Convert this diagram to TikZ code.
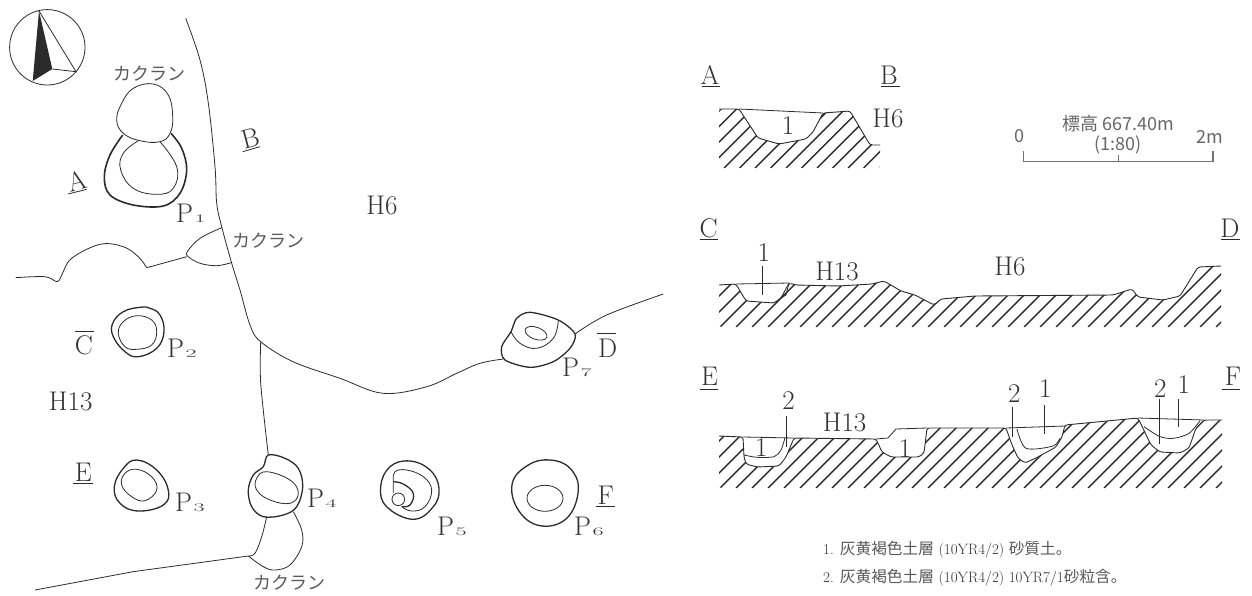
\documentclass[tikz,border=0pt]{standalone}
\usepackage{fontspec}
\newfontfamily\cjk{Noto Sans CJK JP}
\definecolor{ink}{HTML}{2B2B2B}
\definecolor{inktext}{HTML}{333333}
\newcommand{\pitname}[1]{P\kern1.5pt\scalebox{1.5}[0.72]{\fontsize{16}{16}\selectfont #1}}
\newcommand{\notecjk}[1]{{\cjk\fontsize{15.7}{15.7}\selectfont\color{black!65}#1}}
\tikzset{
  edgeln/.style={draw=ink, line width=0.8pt},
  pitln/.style={draw=ink, line width=1.3pt},
  thickln/.style={draw=ink, line width=1.6pt},
  hatchln/.style={draw=ink, line width=1.4pt},
  sectln/.style={draw=ink, line width=0.9pt, rounded corners=2.5pt},
  barln/.style={draw=black!55, line width=1.2pt},
  lab/.style={anchor=center, text=inktext, font=\fontsize{27}{27}\selectfont, inner sep=0pt},
  pitlab/.style={anchor=center, text=inktext, font=\fontsize{27}{27}\selectfont, inner sep=0pt},
  kana/.style={anchor=center, text=black!65, font=\cjk\fontsize{18}{18}\selectfont, inner sep=0pt},
  note/.style={anchor=west, text=inktext, font=\fontsize{15}{15}\selectfont, inner sep=0pt},
  scalelab/.style={anchor=center, text=black!60, font=\cjk\fontsize{18}{18}\selectfont, inner sep=0pt},
}
\def\sectAB{(719,109) -- (739,109) -- (758,138) -- (779,144) -- (806,139) -- (813,132) -- (823,113) -- (850,111) -- (870,145) -- (880,145)}
\def\sectCD{(719,285) -- (736,284) -- (746,301) -- (774,303) -- (781,298) -- (789,283) -- (796,285) -- (838,286) -- (872,284) -- (884,281) -- (901,291) -- (915,295) -- (934,305) -- (941,299) -- (975,296) -- (1113,295) -- (1132,289) -- (1138,297) -- (1163,300) -- (1180,296) -- (1198,267) -- (1221,266)}
\def\sectEF{(719,436) -- (743,437) -- (744,457) -- (746,464) -- (757,467) -- (779,466) -- (786,457) -- (794,438) -- (876,439) -- (882,452) -- (891,457) -- (919,457) -- (924,453) -- (927,428) -- (1006,428) -- (1012,445) -- (1018,458) -- (1025,463) -- (1036,458) -- (1056,447) -- (1062,437) -- (1065,425) -- (1138,418) -- (1151,445) -- (1160,452) -- (1180,453) -- (1189,448) -- (1196,428) -- (1204,420) -- (1222,420)}
\begin{document}
\begin{tikzpicture}[x=1pt, y=-1pt]
  \useasboundingbox (0,0) rectangle (1252,595);

  % north mark
  \draw[edgeln] (47.3,47.3) circle (37.7);
  \fill[ink] (39,11) -- (32.7,81) -- (52.3,69) -- cycle;
  \draw[edgeln] (39,11) -- (76,71.7) -- (52.3,69);

  % plan lines
  \draw[edgeln] plot[smooth, tension=0.6] coordinates {(185.7,18.3) (200,60) (208.3,103) (215,166.7) (216.7,203.3) (221.7,226.7) (231.7,263.3) (240,290) (250,325) (260.7,341.7) (293,361.7) (340,378.3) (383,393.3) (426.7,386.7) (456.7,373.3) (480,363.3) (503.3,359)};
  \draw[edgeln] plot[smooth, tension=0.6] coordinates {(575,334) (606.7,315) (663.3,294)};
  \draw[edgeln] plot[smooth, tension=0.5] coordinates {(260.7,341.7) (260.7,383.3) (268.3,455)};
  \draw[edgeln] (35,590) -- (133,571.7) -- (248.3,556);
  \draw[edgeln] plot[smooth, tension=0.6] coordinates {(15.7,277.7) (45,276.7) (57.3,281.7) (61.7,275) (71.7,258.3) (100,244.3) (123.3,246.7) (138.3,256.7) (146.7,267.7)};
  \draw[edgeln] (146.7,267.7) -- (186.7,256.7);
  \draw[edgeln] plot[smooth, tension=0.6] coordinates {(221.7,227.7) (200,238.3) (187.3,251.7) (188.3,256.7) (200,263.3) (216.7,265.7) (231,262.7)};
  \draw[edgeln] plot[smooth, tension=0.6] coordinates {(266.7,516.7) (261.7,536.7) (255,553.3) (248.3,556)};
  \draw[edgeln] plot[smooth, tension=0.6] coordinates {(248.3,556) (263.3,566.7) (275,570) (290,565) (301.7,546.7) (301.7,530) (293.3,511.7)};

  % P1
  \draw[edgeln] plot[smooth cycle, tension=0.7] coordinates {(153.3,84) (133.3,88.3) (121.7,103.3) (116.7,120) (123.3,133.3) (140,140.7) (160,141.7) (170,133.3) (172.7,116.7) (168.3,95)};
  \draw[thickln] plot[smooth, tension=0.6] coordinates {(122.7,135) (110,155) (104.3,176.7) (110,195) (133.3,205) (163.3,206) (180,193.3) (186.7,170) (181.7,148.3) (171,133.3)};
  \draw[edgeln] plot[smooth, tension=0.7] coordinates {(138.3,140.7) (123.3,153.3) (120.7,170) (133.3,188.3) (156.7,194.3) (173.3,188.3) (176.7,166.7) (160,141.7)};
  % P2
  \draw[pitln] plot[smooth cycle, tension=0.7] coordinates {(140,307.3) (123.3,311.7) (112.7,323.3) (113.3,336.7) (125,351.7) (138.3,356.7) (156.7,348.3) (164,331.7) (160,315) (150,308.3)};
  \draw[edgeln] plot[smooth cycle, tension=0.7] coordinates {(136.7,315.7) (123.3,321.7) (118.3,333.3) (125,346.7) (136.7,349.3) (151.7,345) (156.7,331.7) (151.7,320)};
  % P3
  \draw[pitln] plot[smooth cycle, tension=0.7] coordinates {(136.7,460) (123.3,468.3) (114.3,486.7) (120,503.3) (138.3,511) (163.3,505) (168.3,490) (156.7,470)};
  \draw[edgeln] plot[smooth cycle, tension=0.7] coordinates {(136.7,469.3) (125,473.3) (121.7,485) (131.7,496.7) (145,500.7) (156.7,490) (151.7,476.7)};
  % P4
  \draw[pitln] plot[smooth cycle, tension=0.6] coordinates {(268.3,455) (285,458.3) (298.3,468.3) (302.7,486.7) (296.7,506.7) (283.3,515) (263.3,516.7) (251.7,506.7) (248.3,490) (253.3,475) (263.3,466.7)};
  \draw[edgeln] plot[smooth cycle, tension=0.7] coordinates {(266.7,471.7) (256.7,478.3) (256.7,490) (270,500) (290,503.3) (298.3,493.3) (290,480)};
  % P5
  \draw[pitln] plot[smooth cycle, tension=0.7] coordinates {(410,461) (390,466.7) (380.7,486.7) (386.7,506.7) (413.3,519.3) (433.3,506.7) (439,488.3) (430,470)};
  \draw[edgeln] plot[smooth, tension=0.7] coordinates {(393.3,493) (393.3,480) (395,471.7) (406.7,470) (423.3,476.7) (431.7,490) (425,506.7) (411.7,511) (401.7,506.7)};
  \draw[pitln] plot[smooth, tension=0.7] coordinates {(393.3,481.7) (403.3,484) (413.3,493.3) (410,505) (401.7,506.7)};
  \draw[edgeln] (398.3,499.3) circle (6.3);
  % P6
  \draw[pitln] plot[smooth cycle, tension=0.7] coordinates {(550,460) (528.3,465) (512.3,483.3) (518.3,510) (540,525.7) (566.7,518.3) (578.3,490) (570,468.3)};
  \draw[edgeln] (545,498.3) ellipse (18 and 13);
  % P7
  \draw[pitln] plot[smooth cycle, tension=0.5] coordinates {(530,312.3) (516.7,318.3) (511,331.7) (501.7,346.7) (505,360) (530,367.3) (553.3,361.7) (570,348.3) (575,334) (558.3,320)};
  \draw[edgeln] plot[smooth, tension=0.7] coordinates {(511,331.7) (520,343.3) (536.7,348.3) (553.3,338.3) (558.3,320.7)};
  \draw[edgeln, rotate around={-20:(536,333.3)}] (536,333.3) ellipse (11.5 and 6);

  % plan labels
  \node[kana] (kakuranA) at (149,74) {カクラン};
  \node[kana] (kakuranB) at (268.5,241) {カクラン};
  \node[kana] (kakuranC) at (289.5,583) {カクラン};
  \node[lab, rotate=15] (planA) at (77,181) {A};
  \node[lab, rotate=15] (planB) at (250.7,138) {B};
  \node[lab] (planC) at (84,345) {C};
  \node[lab] (planD) at (607.7,348.3) {D};
  \node[lab] (planE) at (83.3,472.7) {E};
  \node[lab] (planF) at (605.7,495) {F};
  \draw[edgeln] (68,194) -- (86.7,189.3);
  \draw[edgeln] (242.7,151.7) -- (260,146.7);
  \draw[edgeln] (75,331.7) -- (94,331.7);
  \draw[edgeln] (596.7,333.3) -- (615.7,333.3);
  \draw[edgeln] (73,483.3) -- (92.7,483.3);
  \draw[edgeln] (595.7,506) -- (615,506);
  \node[pitlab] (planHsix) at (382,205) {H6};
  \node[pitlab] (planHthirteen) at (70.7,401.7) {H13};
  \node[pitlab, anchor=west] (pone) at (176,213) {\pitname{1}};
  \node[pitlab, anchor=west] (ptwo) at (167,348) {\pitname{2}};
  \node[pitlab, anchor=west] (pthree) at (175,502) {\pitname{3}};
  \node[pitlab, anchor=west] (pfour) at (307,498) {\pitname{4}};
  \node[pitlab, anchor=west] (pfive) at (437,526) {\pitname{5}};
  \node[pitlab, anchor=west] (psix) at (574,526) {\pitname{6}};
  \node[pitlab, anchor=west] (pseven) at (562,367) {\pitname{7}};

  % section A-B
  \begin{scope}
    \clip[rounded corners=2.5pt] \sectAB -- (880,168) -- (719,168) -- cycle;
    \foreach \x in {600,615.5,...,900}
      \draw[hatchln] (\x,168) -- ++(80,-80);
  \end{scope}
  \draw[sectln] \sectAB;
  \draw[edgeln] (739,109) -- (823,113);
  \node[lab] (secA) at (710,75) {A};
  \node[lab] (secB) at (889,75) {B};
  \draw[edgeln] (702,86) -- (720,86);
  \draw[edgeln] (881,86) -- (900,86);
  \node[lab] (secHsix) at (888,118) {H6};
  \node[lab] (layerAB) at (788,126) {1};

  % scale
  \draw[barln] (1023.5,151) -- (1023.5,161.7) -- (1213,161.7) -- (1213,151);
  \draw[barln] (1118.5,155) -- (1118.5,161.7);
  \node[scalelab] (scaleA) at (1019.5,136) {0};
  \node[scalelab] (scaleB) at (1209.5,137) {2m};
  \node[scalelab] (scaleH) at (1118,124) {標高 667.40m};
  \node[scalelab] (scaleR) at (1118,144.5) {(1:80)};

  % section C-D
  \begin{scope}
    \clip[rounded corners=2.5pt] \sectCD -- (1221,327) -- (719,327) -- cycle;
    \foreach \x in {400,416,...,1240}
      \draw[hatchln] (\x,327) -- ++(80,-80);
  \end{scope}
  \draw[sectln] \sectCD;
  \draw[edgeln] (736,284) -- (789,283);
  \draw[edgeln] (781,298) -- (786,295) -- (789,283);
  \draw[edgeln] (762.3,266) -- (762.3,295);
  \node[lab] (secC) at (708.6,228) {C};
  \node[lab] (secD) at (1230,228) {D};
  \draw[edgeln] (700,239) -- (718,239);
  \draw[edgeln] (1221,239) -- (1240,239);
  \node[lab] (layerCD) at (763.7,252.7) {1};
  \node[lab] (secHthirteen) at (837,271) {H13};
  \node[lab] (secHsixb) at (1010,266) {H6};

  % section E-F
  \begin{scope}
    \clip[rounded corners=2.5pt] \sectEF -- (1222,488) -- (719,488) -- cycle;
    \foreach \x in {400,416,...,1240}
      \draw[hatchln] (\x,488) -- ++(80,-80);
  \end{scope}
  \draw[sectln] \sectEF;
  \draw[edgeln] (743,437) -- (794,438);
  \draw[edgeln] (876,439) -- (888,438) -- (896,429) -- (927,428);
  \draw[edgeln] (1006,428) -- (1065,426);
  \draw[edgeln] (1138,418) -- (1204,420);
  \draw[edgeln] plot[smooth, tension=0.5] coordinates {(744,455) (757,457.3) (774,456.7) (781,450) (785,437.7)};
  \draw[edgeln] plot[smooth, tension=0.5] coordinates {(1017,429) (1026,448.3) (1053,446) (1060,438)};
  \draw[edgeln] plot[smooth, tension=0.5] coordinates {(1144,426.7) (1159.7,436.5) (1173.5,438.3) (1189,433.3) (1200,420.7)};
  \draw[edgeln] (786.4,415.7) -- (786.4,446.7);
  \draw[edgeln] (1012.7,406.7) -- (1012.7,437.3);
  \draw[edgeln] (1044.4,405) -- (1044.4,434);
  \draw[edgeln] (1159.7,399.3) -- (1159.7,444);
  \draw[edgeln] (1178.7,399.3) -- (1178.7,427.3);
  \node[lab] (secE) at (709.6,376.7) {E};
  \node[lab] (secF) at (1233,376.7) {F};
  \draw[edgeln] (700,389.3) -- (718,389.3);
  \draw[edgeln] (1222,389.3) -- (1240,389.3);
  \node[lab] (layerEa) at (788.5,401) {2};
  \node[lab] (secHthirteenb) at (844.6,422) {H13};
  \node[lab] (layerEb) at (761.3,447.7) {1};
  \node[lab] (layerEc) at (905,448.3) {1};
  \node[lab] (layerEd) at (1014.4,393.3) {2};
  \node[lab] (layerEe) at (1045.4,388.3) {1};
  \node[lab] (layerEf) at (1160.4,388.3) {2};
  \node[lab] (layerEg) at (1183.8,384.3) {1};

  % notes
  \node[note] (noteA) at (823,550) {1. \notecjk{灰黄褐色土層} (10YR4/2) \notecjk{砂質土。}};
  \node[note] (noteB) at (823,578) {2. \notecjk{灰黄褐色土層} (10YR4/2) 10YR7/1\notecjk{砂粒含。}};
\end{tikzpicture}
\end{document}
